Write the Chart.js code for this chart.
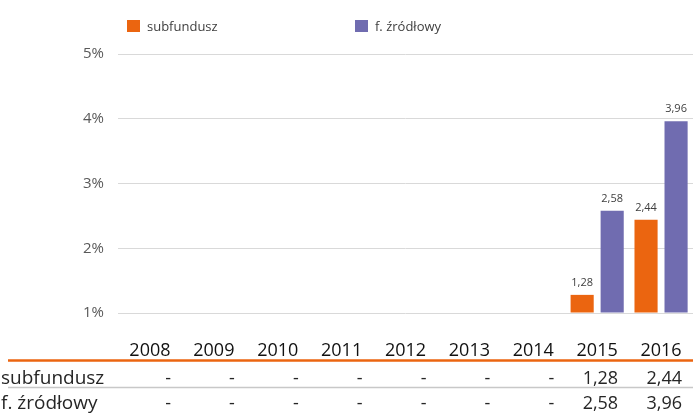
<!DOCTYPE html>
<html>
<head>
<meta charset="utf-8">
<script src="https://cdn.jsdelivr.net/npm/chart.js@4.4.1/dist/chart.umd.min.js"></script>
<style>
  html, body { margin: 0; padding: 0; background: #fff; }
  #wrap { width: 693px; height: 414px; }
</style>
</head>
<body>
<div id="wrap"><canvas id="myChart"></canvas></div>
<script>
const years = ["2008", "2009", "2010", "2011", "2012", "2013", "2014", "2015", "2016"];
const subfundusz = [null, null, null, null, null, null, null, 1.28, 2.44];
const zrodlowy = [null, null, null, null, null, null, null, 2.58, 3.96];
const seriesNames = ["subfundusz", "f. źródłowy"];
const yMin = 1;
const yMax = 5;
const yStep = 1;

const orange = "rgb(235,101,16)";
const purple = "rgb(112,108,176)";
const font = "'Open Sans', sans-serif";

const fmt = v => v === null ? "-" : v.toFixed(2).replace(".", ",");

// legend, value labels and the data table under the axis
const tablePlugin = {
    id: "table",
    afterDraw(chart) {
        const ctx = chart.ctx;
        const x = chart.scales.x;
        ctx.save();

        // legend
        const legendPos = [127, 355];
        chart.data.datasets.forEach((ds, i) => {
            ctx.fillStyle = ds.backgroundColor;
            ctx.fillRect(legendPos[i], 20, 13, 12);
            ctx.fillStyle = "#404040";
            ctx.font = "13px " + font;
            ctx.textAlign = "left";
            ctx.textBaseline = "alphabetic";
            ctx.fillText(ds.label, legendPos[i] + 20, 31);
        });

        // value labels above bars
        ctx.font = "11px " + font;
        ctx.fillStyle = "#404040";
        ctx.textAlign = "center";
        chart.data.datasets.forEach((ds, i) => {
            chart.getDatasetMeta(i).data.forEach((el, j) => {
                if (ds.data[j] === null) return;
                ctx.fillText(fmt(ds.data[j]), el.x, el.y - 9);
            });
        });

        // table lines
        ctx.strokeStyle = orange;
        ctx.lineWidth = 2.5;
        ctx.beginPath();
        ctx.moveTo(8, 360.5);
        ctx.lineTo(693, 360.5);
        ctx.stroke();
        ctx.strokeStyle = "#c8c8c8";
        ctx.lineWidth = 1.5;
        ctx.beginPath();
        ctx.moveTo(8, 387.5);
        ctx.lineTo(693, 387.5);
        ctx.stroke();

        // table rows
        const rows = [subfundusz, zrodlowy];
        const baselines = [384, 409];
        ctx.fillStyle = "#262626";
        rows.forEach((row, r) => {
            ctx.font = "19px " + font;
            ctx.textAlign = "left";
            ctx.fillText(seriesNames[r], 1, baselines[r]);
            ctx.font = "18px " + font;
            ctx.textAlign = "right";
            row.forEach((v, i) => {
                ctx.fillText(fmt(v), x.getPixelForValue(i) + 21, baselines[r]);
            });
        });
        ctx.restore();
    }
};

new Chart(document.getElementById("myChart"), {
    type: "bar",
    data: {
        labels: years,
        datasets: [
            { label: seriesNames[0], data: subfundusz, backgroundColor: orange, base: yMin },
            { label: seriesNames[1], data: zrodlowy, backgroundColor: purple, base: yMin }
        ]
    },
    options: {
        responsive: true,
        maintainAspectRatio: false,
        animation: false,
        devicePixelRatio: 1,
        categoryPercentage: 0.94,
        barPercentage: 0.77,
        layout: { padding: { top: 54, left: 0, right: -1, bottom: 0 } },
        plugins: {
            legend: { display: false },
            tooltip: { enabled: false }
        },
        scales: {
            x: {
                grid: { display: false, drawTicks: false },
                border: { display: false },
                ticks: {
                    color: "#111",
                    font: { family: font, size: 18 },
                    padding: 27,
                    maxRotation: 0
                },
                afterFit: s => {
                    s.height = 101;
                    s.paddingLeft = 0;
                    s.paddingRight = 0;
                }
            },
            y: {
                min: yMin,
                max: yMax,
                grid: { color: "#d9d9d9", lineWidth: 1, drawTicks: false },
                border: { display: false },
                ticks: {
                    stepSize: yStep,
                    padding: 14,
                    color: "#595959",
                    font: { family: font, size: 15 },
                    callback: v => v + "%"
                },
                afterFit: s => {
                    s.width = 118;
                    s.paddingTop = 0;
                    s.paddingBottom = 0;
                }
            }
        }
    },
    plugins: [tablePlugin]
});
</script>
</body>
</html>
